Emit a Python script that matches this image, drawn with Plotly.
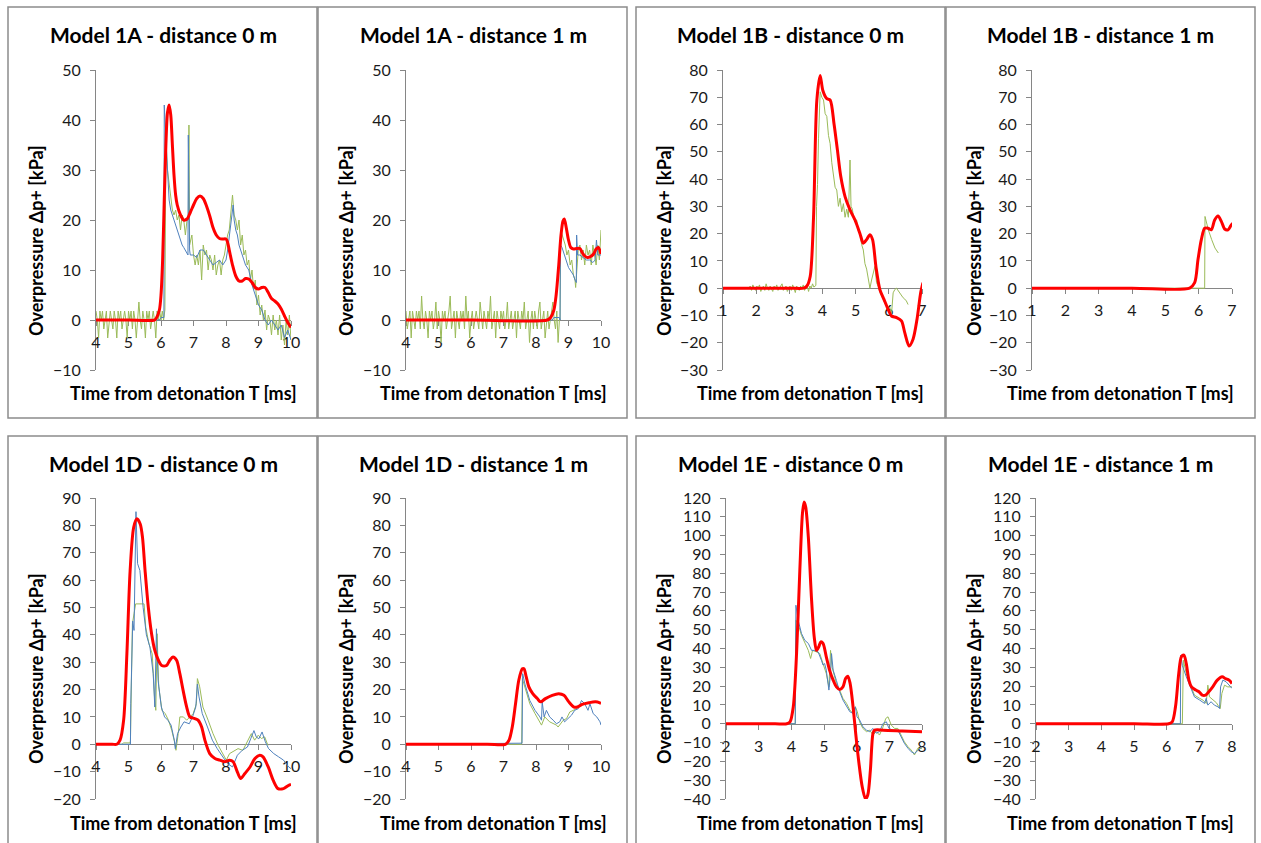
import numpy as np
import plotly.graph_objects as go

W, H = 1261, 843

# ---------------- panel texts / scales ----------------
panel_titles = ["Model 1A - distance 0 m", "Model 1A - distance 1 m",
                "Model 1B - distance 0 m", "Model 1B - distance 1 m",
                "Model 1D - distance 0 m", "Model 1D - distance 1 m",
                "Model 1E - distance 0 m", "Model 1E - distance 1 m"]
x_ranges = [(4, 10), (4, 10), (1, 7), (1, 7), (4, 10), (4, 10), (2, 8), (2, 8)]
y_ranges = [(-10, 50), (-10, 50), (-30, 80), (-30, 80), (-20, 90), (-20, 90), (-40, 120), (-40, 120)]
y_title = "Overpressure Δp+ [kPa]"
x_title = "Time from detonation T [ms]"

# ---------------- data: Model 1A, 0 m ----------------
A0_green_noise_t0, A0_green_noise_dt = 4.0, 0.04
A0_green_noise = [1.8, 0, -3.6, 1.8, 0, 1.8, -1.8, 0, 1.8, -3.6, 0, 1.8, 0, -1.8, 1.8, 0, -3.6, 1.8, 0, 1.8,
                  -1.8, 0, 1.8, 0, -3.6, 1.8, 0, 1.8, -1.8, 1.8, 0, -3.6, 0, 3.6, 0, -1.8, 1.8, 0, -3.6, 1.8,
                  0, 1.8, -1.8, 0, 1.8, 0, -3.6, 1.8, 0, 1.8, 0, 1.8, 0]
A0_green_t = [6.12, 6.15, 6.2, 6.25, 6.3, 6.35, 6.4, 6.45, 6.5, 6.55, 6.6, 6.65, 6.7, 6.75, 6.8, 6.84, 6.86, 6.88,
              6.95, 7.0, 7.05, 7.1, 7.15, 7.2, 7.25, 7.3, 7.35, 7.4, 7.45, 7.5, 7.55, 7.6, 7.65, 7.7, 7.75, 7.8,
              7.85, 7.9, 7.95, 8.0, 8.05, 8.1, 8.15, 8.2, 8.25, 8.3, 8.35, 8.4, 8.45, 8.5, 8.55, 8.6, 8.65, 8.7,
              8.75, 8.8, 8.85, 8.9, 8.95, 9.0, 9.05, 9.1, 9.15, 9.2, 9.25, 9.3, 9.35, 9.4, 9.45, 9.5, 9.55, 9.6,
              9.65, 9.7, 9.75, 9.8, 9.85, 9.9, 9.95, 10.0]
A0_green_p = [2, 36, 30, 27, 25, 22, 21, 22, 20, 21, 18, 21, 20, 17, 20, 20, 39, 15,
              17, 13, 11, 13, 11, 14, 8, 15, 13, 14, 10, 13, 12, 10, 13, 9, 11, 12,
              9, 12, 13, 15, 17, 18, 22, 25, 21, 20, 18, 20, 15, 17, 13, 14, 11, 12,
              8, 10, 6, 8, 3, 5, 1, 3, 0, 2, -2, 1, 0, -3, 1, -2, 0, -3,
              1, -4, -1, -5, 0, -3, 1, -4]
A0_blue_t = [4.0, 5.95, 6.0, 6.09, 6.1, 6.15, 6.2, 6.25, 6.3, 6.35, 6.4, 6.45, 6.5, 6.55, 6.6, 6.65, 6.7, 6.75,
             6.8, 6.83, 6.84, 6.86, 6.88, 6.9, 7.0, 7.1, 7.2, 7.3, 7.4, 7.5, 7.6, 7.7, 7.8, 7.9, 8.0, 8.05,
             8.1, 8.15, 8.2, 8.22, 8.25, 8.3, 8.35, 8.4, 8.5, 8.6, 8.7, 8.8, 8.9, 9.0, 9.1, 9.2, 9.3, 9.4,
             9.5, 9.6, 9.7, 9.8, 9.9, 10.0]
A0_blue_p = [0, 0, 0.5, 0.5, 43, 35, 30, 24, 22, 21, 20, 19, 18, 17, 16, 15, 14.5, 14,
             13.5, 13, 37, 20, 14, 13, 13, 12.5, 14, 14, 13, 12, 11, 11.5, 12, 11, 12, 14,
             17, 20, 22, 23, 20, 18, 17, 15, 13, 11, 10, 7, 5, 3, 2, 0, -1, 0,
             -1, -2, -1, -3.5, -2, -4]
A0_red_t = [4.0, 5.0, 5.8, 5.85, 5.95, 6.0, 6.05, 6.1, 6.15, 6.2, 6.25, 6.3, 6.35, 6.4, 6.45, 6.5, 6.6, 6.7,
            6.8, 6.9, 7.0, 7.1, 7.2, 7.3, 7.4, 7.5, 7.6, 7.7, 7.8, 7.9, 8.0, 8.05, 8.1, 8.2, 8.3, 8.4,
            8.5, 8.6, 8.7, 8.8, 8.9, 9.0, 9.1, 9.2, 9.3, 9.4, 9.5, 9.6, 9.7, 9.8, 9.9, 10.0]
A0_red_p = [0, 0, 0, 0.3, 2, 5, 12, 24, 35, 41.5, 43, 41, 35, 29, 25, 23, 21, 20,
            20.2, 21.5, 23, 24.3, 24.8, 24.3, 22.8, 20.8, 18.5, 17, 16.3, 16.2, 16.2, 15.5, 14, 11, 8.8, 7.8,
            7.8, 8.3, 8.2, 7.5, 6.5, 6.2, 6.5, 6.5, 5.5, 4.3, 3.8, 3.2, 2.2, 0.8, -0.5, -1.5]

# ---------------- data: Model 1A, 1 m ----------------
A1_green_noise_t0, A1_green_noise_dt = 4.0, 0.04
A1_green_noise = [1.8, -1.8, 0, 1.8, -3.6, 1.8, 0, -1.8, 1.8, 0, 1.8, -1.8, 4.8, 0, -1.8, 1.8, 0, -3.6, 1.8, 0,
                  1.8, -1.8, 0, 3.6, -1.8, 1.8, 0, -4.5, 1.8, 0, 1.8, -1.8, 0, 1.8, 4.8, -1.8, 0, 1.8, -3.6, 1.8,
                  0, -1.8, 1.8, 0, 1.8, -1.8, 4.8, 0, 1.8, -3.6, 0, 1.8, -1.8, 0, 1.8, 0, -1.8, 3.6, 0, -1.8,
                  1.8, 0, -1.8, 1.8, 0, 4.8, -1.8, 0, 1.8, -3.6, 1.8, 0, -1.8, 1.8, 0, 1.8, -1.8, 0, 3.6, -1.8,
                  0, 1.8, -1.8, 0, 1.8, -3.6, 1.8, 0, -1.8, 1.8, 0, 3.6, -1.8, 0, 1.8, -4.5, 0, 1.8, -1.8, 1.8,
                  0, -1.8, 1.8, 3.6, -1.8, 0, 1.8, -3.6, 0, 1.8, -1.8, 0, 1.8, 3.6, 0, -1.8, 1.8, -4.5, 0]
A1_green_t = [8.74, 8.76, 8.8, 8.85, 8.9, 8.95, 9.0, 9.05, 9.1, 9.15, 9.2, 9.22, 9.25, 9.3, 9.35, 9.4, 9.45,
              9.5, 9.55, 9.6, 9.65, 9.7, 9.75, 9.8, 9.85, 9.9, 9.95, 10.0]
A1_green_p = [0, 18, 17, 16, 15, 13, 14, 11, 12, 9, 8, 6.5, 9, 14, 15, 12, 14,
              11, 15, 13, 14, 11, 15, 13, 11, 15, 12, 18]
A1_blue_t = [4.0, 8.5, 8.55, 8.72, 8.74, 8.75, 8.8, 8.85, 8.9, 8.95, 9.0, 9.05, 9.1, 9.15, 9.2, 9.24, 9.25,
             9.28, 9.35, 9.45, 9.55, 9.65, 9.75, 9.82, 9.86, 9.9, 10.0]
A1_blue_p = [0, 0, 0.5, 0.5, 0, 15, 14.5, 13.5, 12.5, 11.5, 10.5, 10, 9.5, 9, 8, 7.5, 17,
             13, 13, 12.5, 12, 12, 11.5, 12, 16, 13, 13]
A1_red_t = [4.0, 6.0, 8.35, 8.45, 8.55, 8.62, 8.7, 8.77, 8.83, 8.87, 8.93, 9.0, 9.07, 9.15, 9.25, 9.35, 9.42,
            9.5, 9.58, 9.68, 9.77, 9.85, 9.92, 10.0]
A1_red_p = [0, 0, 0, 0.5, 2, 5, 11, 17, 19.8, 20.2, 18.5, 16, 14.5, 14.2, 14.3, 14.3, 13.5,
            12.8, 12.5, 12.7, 13.2, 14.2, 14.5, 13.2]

# ---------------- data: Model 1B, 0 m ----------------
B0_green_noise_t0, B0_green_noise_dt = 1.78, 0.04
B0_green_noise = [0, 0.8, -0.8, 1.2, 0, -0.8, 0.8, 0, 1.2, -1.2, 0, 0.8, -0.8, 1.6, 0, -0.8, 0.8, 0, -1.2, 0.8,
                  0, 1.2, -0.8, 0, 0.8, 1.6, -0.8, 0, 0.8, -1.2, 0, 0.8, -0.8, 1.2, 0, -1.6, 0.8, 0, -0.8, 0.8,
                  0, 1.2, -0.8, 0, 0.8, -1.2, 0.8, 0, 1.6, 0.4]
B0_green_t = [3.8, 3.82, 3.85, 3.88, 3.93, 3.98, 4.03, 4.08, 4.13, 4.18, 4.23, 4.28, 4.33, 4.38, 4.43, 4.48,
              4.53, 4.58, 4.63, 4.68, 4.73, 4.78, 4.83, 4.86, 4.9, 4.95, 5.03, 5.08, 5.13, 5.18, 5.23, 5.28,
              5.33, 5.38, 5.43, 5.48, 5.53, 5.58, 5.63, 5.68, 5.75, 5.83, 5.9, 5.98, 6.03, 6.08, 6.13, 6.18,
              6.23, 6.28, 6.33, 6.38, 6.43, 6.48, 6.53, 6.58]
B0_green_p = [1, 30, 38, 55, 72, 70, 69, 64, 63, 56, 53, 46, 42, 37, 36, 30, 33, 28, 31, 26, 29, 26, 47, 30,
              29, 25, 25, 21, 20, 16, 14, 9, 7, 4, 0, 3, 6, 8, 2, 0.7, -2, -4, -6, -8, -7, -9.6, -1.7, -0.5,
              0, -1, -1.7, -2.5, -3.5, -4, -4.7, -6]
B0_red_t = [1.0, 3.0, 3.43, 3.53, 3.63, 3.73, 3.83, 3.93, 4.01, 4.13, 4.23, 4.35, 4.45, 4.55, 4.68, 4.83,
            4.98, 5.13, 5.23, 5.33, 5.43, 5.51, 5.61, 5.73, 5.85, 5.98, 6.08, 6.23, 6.38, 6.48, 6.61,
            6.73, 6.85, 6.96, 7.03]
B0_red_p = [0, 0, 0, 0.8, 4.4, 26, 69, 78, 72.5, 69.5, 69, 60, 50.6, 41, 33.6, 28.7,
            25, 20, 16.5, 17.8, 19.6, 17.8, 8, -0.5, -4, -7.8, -10.2, -10.8, -12, -16.3, -21.2,
            -18.7, -11.4, -1.7, 2]

# ---------------- data: Model 1B, 1 m ----------------
B1_green_t = [1.0, 6.18, 6.19, 6.29, 6.39, 6.49, 6.59]
B1_green_p = [0, 0, 26.3, 21.4, 17.8, 14.7, 12.9]
B1_red_t = [1.0, 4.0, 5.73, 5.88, 5.98, 6.08, 6.18, 6.28, 6.38, 6.48, 6.58, 6.68, 6.78, 6.88, 6.98, 7.06]
B1_red_p = [0, 0, 0, 2, 10.5, 17.8, 22, 22, 21.4, 25, 26.5, 24.5, 21.7, 21.4, 23.2, 24]

# ---------------- data: Model 1D, 0 m ----------------
D0_green_t = [4.0, 4.8, 4.85, 5.05, 5.06, 5.12, 5.17, 5.22, 5.48, 5.53, 5.63, 5.73, 5.8, 5.84, 5.88, 5.93,
              6.03, 6.13, 6.23, 6.33, 6.43, 6.46, 6.53, 6.58, 6.69, 6.79, 6.89, 6.99, 7.09, 7.12, 7.19,
              7.29, 7.45, 7.6, 7.76, 7.91, 8.01, 8.11, 8.21, 8.37, 8.52, 8.68, 8.78, 8.88, 8.99, 9.09,
              9.19, 9.29]
D0_green_p = [0, 0, 0.5, 0.5, 1.5, 44, 47.7, 51.3, 51.3, 42.8, 36.7, 33, 17.3, 12.4, 40.4, 21,
              12.4, 11.2, 8.8, 5.1, 0.2, -2.2, 3.9, 10, 10, 8.8, 10, 11.2, 14.8, 24, 21,
              13.6, 8.8, 3.9, -0.4, -3.4, -5.8, -3.4, -2.8, -1.6, -2.2, 1.5, 3.9, 1.5, 3.3, 2.1,
              2.7, -0.4]
D0_blue_t = [4.0, 5.06, 5.07, 5.13, 5.17, 5.23, 5.28, 5.35, 5.45, 5.55, 5.66, 5.76, 5.81, 5.86, 5.91, 6.01,
             6.11, 6.21, 6.31, 6.41, 6.44, 6.51, 6.61, 6.71, 6.87, 6.97, 7.07, 7.12, 7.17, 7.27, 7.43,
             7.58, 7.73, 7.89, 8.04, 8.2, 8.35, 8.5, 8.66, 8.76, 8.86, 8.93, 9.01, 9.11, 9.21, 9.31,
             9.47, 9.62, 9.77, 9.93, 10.0]
D0_blue_p = [0, 0, 14.8, 45, 41.6, 85, 66, 63.5, 50, 40, 35.5, 25.8, 13.6, 42.2, 23.4, 13.6,
             10, 8.8, 7, 1.5, -1.6, 3.9, 6.3, 8.2, 7.5, 10, 13.6, 22, 17.3, 11.2, 6.3,
             1.5, -1.6, -4.6, -7, -8.3, -4, -2.2, -1, 2, 5, 2.7, 2, 4.5, 0.9, -1.6,
             -3.4, -4.6, -5.8, -8.3, -8.9]
D0_red_t = [4.0, 4.5, 4.64, 4.74, 4.85, 4.95, 5.05, 5.16, 5.26, 5.36, 5.43, 5.51, 5.61, 5.71, 5.81, 5.92,
            6.02, 6.17, 6.27, 6.37, 6.48, 6.58, 6.68, 6.79, 6.89, 7.04, 7.14, 7.25, 7.35, 7.5, 7.66,
            7.81, 7.96, 8.11, 8.22, 8.33, 8.45, 8.58, 8.74, 8.89, 9.04, 9.14, 9.3, 9.45, 9.6, 9.77,
            9.93, 10.0]
D0_red_p = [0, 0, 0, 1.5, 8.8, 33, 63.5, 79.3, 82.4, 80.5, 75.7, 63.5, 50, 40.4, 34.3, 30.7,
            28.8, 28.8, 30.7, 31.9, 30.7, 25.8, 19.7, 13.6, 10, 9.4, 8.8, 6.3, 1.5, -3.4, -5.2,
            -5.8, -6.4, -5.8, -6.4, -9.5, -12.5, -10.7, -8.3, -5.2, -4, -4.6, -8.3, -13.1, -16.2, -16.2,
            -15, -14.7]

# ---------------- data: Model 1D, 1 m ----------------
D1_green_t = [4.0, 7.56, 7.58, 7.66, 7.81, 7.97, 8.07, 8.17, 8.27, 8.42, 8.63, 8.68, 8.84, 8.94, 9.04,
              9.14, 9.25, 9.35]
D1_green_p = [0, 0, 24, 21, 14.8, 11.2, 8.8, 7, 10, 8.2, 7, 6.3, 8.8, 9.4, 11.8,
              12.4, 13, 14.2]
D1_blue_t = [4.0, 7.3, 7.57, 7.59, 7.66, 7.81, 7.97, 8.12, 8.17, 8.19, 8.25, 8.32, 8.42, 8.53, 8.63, 8.73,
             8.8, 8.88, 8.99, 9.09, 9.19, 9.3, 9.4, 9.5, 9.6, 9.66, 9.76, 9.87, 9.97, 10.0]
D1_blue_p = [0, 0.4, 0.4, 25.8, 22, 16, 12.4, 10, 8.8, 15.5, 10, 12.4, 10, 8.8, 7.5, 8.2,
             10, 8.2, 9.4, 10.6, 12.4, 13, 16, 14.8, 12.4, 14.8, 11.2, 10, 8.2, 7]
D1_red_t = [4.0, 6.5, 7.06, 7.17, 7.27, 7.37, 7.47, 7.58, 7.63, 7.7, 7.78, 7.9, 8.04, 8.14, 8.29, 8.5,
            8.7, 8.86, 9.01, 9.17, 9.27, 9.42, 9.63, 9.83, 10.0]
D1_red_p = [0, 0, 0, 1.5, 6.3, 14.8, 23.4, 27.6, 27.6, 24.6, 21, 18.5, 16.7, 15.5, 16.7, 17.9,
            18.5, 17.9, 15.5, 13.6, 13.6, 14.6, 15.2, 15.5, 15]

# ---------------- data: Model 1E, 0 m ----------------
E0_green_t = [2.0, 4.12, 4.14, 4.21, 4.31, 4.41, 4.52, 4.59, 4.65, 4.77, 4.87, 4.97, 5.07, 5.15, 5.2, 5.25,
              5.38, 5.48, 5.58, 5.69, 5.79, 5.89, 5.96, 6.02, 6.09, 6.19, 6.3, 6.4, 6.5, 6.6, 6.7, 6.81,
              6.89, 6.96, 7.06, 7.16, 7.26, 7.36, 7.46, 7.57, 7.67, 7.77, 7.87, 8.0]
E0_green_p = [0, 0, 55, 53, 47, 43.5, 39, 34.7, 39, 38.2, 37.3, 32, 26.7, 19.6, 39, 30,
              21.4, 17.9, 13.5, 10.8, 7.3, 5.5, 9, 6.4, 1, -2.5, -4.2, -3.4, -6, -4.2, -6, -1.6,
              2.8, 3.7, -0.7, -2.5, -2.5, -6, -9.6, -12.2, -14, -16.6, -13.1, -13.1]
E0_blue_t = [2.0, 4.12, 4.14, 4.21, 4.31, 4.41, 4.52, 4.62, 4.72, 4.82, 4.92, 4.97, 5.02, 5.07, 5.15, 5.2,
             5.23, 5.28, 5.38, 5.48, 5.58, 5.69, 5.79, 5.89, 5.96, 6.01, 6.09, 6.19, 6.3, 6.4, 6.5, 6.6,
             6.7, 6.81, 6.91, 6.99, 7.11, 7.26, 7.36, 7.46, 7.57, 7.67, 7.77, 7.87, 8.0]
E0_blue_p = [0, 0, 63, 55, 48, 44.4, 42.7, 39, 39, 38.2, 33.8, 31.2, 32, 28.5, 17.9, 26.7,
             37.3, 28.5, 23, 17, 12.6, 9, 6.4, 5.5, 9, 3.7, 2, -1.6, -3.4, -4.2, -2.5, -5,
             -4.2, 0.2, 1, -2.5, -3.4, -3.4, -6.9, -10.4, -13, -14.9, -15.8, -14, -12.2]
E0_red_t = [2.0, 3.5, 3.86, 3.96, 4.06, 4.16, 4.26, 4.34, 4.39, 4.44, 4.52, 4.62, 4.7, 4.77, 4.84, 4.9,
            4.97, 5.07, 5.17, 5.28, 5.38, 5.48, 5.58, 5.66, 5.73, 5.8, 5.89, 5.97, 6.07, 6.17, 6.27,
            6.34, 6.42, 6.5, 6.55, 6.81, 7.4, 8.0]
E0_red_p = [0, 0, 0, 1, 9, 37.3, 81.6, 111.7, 117.9, 115.2, 99.3, 65.7, 46.2, 39, 40.9, 43.5,
            42.7, 35.6, 28.5, 23.2, 19.6, 18.2, 19.6, 24, 25.3, 21.4, 9, -5.1, -21, -33.5, -40,
            -37.9, -24.6, -5.1, -3.4, -3.4, -3.8, -4.2]

# ---------------- data: Model 1E, 1 m ----------------
E1_green_t = [2.0, 6.48, 6.51, 6.6, 6.75, 6.85, 7.01, 7.11, 7.21, 7.26, 7.31, 7.41, 7.52, 7.6, 7.64, 7.69,
              7.77, 7.87, 8.0]
E1_green_p = [0, 0, 33.8, 26.7, 19.6, 15.2, 13.5, 12.6, 10.8, 20.5, 14.3, 12.6, 11.2, 9, 8.1, 16.1,
              20.5, 19.6, 19.6]
E1_blue_t = [2.0, 6.42, 6.43, 6.48, 6.6, 6.75, 6.85, 7.01, 7.16, 7.21, 7.26, 7.36, 7.46, 7.57, 7.62, 7.65,
             7.72, 7.82, 7.92, 8.0]
E1_blue_p = [0, 0, 36.5, 31, 25, 17.9, 14.3, 12.6, 10.8, 13.5, 9.9, 11.7, 9.9, 9, 8.1, 19.6,
             23.2, 22.3, 20.5, 18.8]
E1_red_t = [2.0, 5.0, 6.06, 6.17, 6.27, 6.37, 6.45, 6.53, 6.6, 6.68, 6.76, 6.89, 6.99, 7.09, 7.19, 7.29,
            7.41, 7.55, 7.7, 7.8, 7.91, 8.0]
E1_red_p = [0, 0, 0, 1, 9, 26.7, 35.6, 36.5, 32, 23.2, 19.6, 17.9, 17, 15.2, 15.2, 17,
            19.6, 23.2, 25, 24, 23.2, 21.4]


def with_noise(t0, dt, noise, t, p):
    nt = [t0 + i * dt for i in range(len(noise))]
    return nt + list(t), list(noise) + list(p)


A0_g = with_noise(A0_green_noise_t0, A0_green_noise_dt, A0_green_noise, A0_green_t, A0_green_p)
A1_g = with_noise(A1_green_noise_t0, A1_green_noise_dt, A1_green_noise, A1_green_t, A1_green_p)
B0_g = with_noise(B0_green_noise_t0, B0_green_noise_dt, B0_green_noise, B0_green_t, B0_green_p)

panels = [
    dict(green=A0_g, blue=(A0_blue_t, A0_blue_p), red=(A0_red_t, A0_red_p)),
    dict(green=A1_g, blue=(A1_blue_t, A1_blue_p), red=(A1_red_t, A1_red_p)),
    dict(green=B0_g, blue=None, red=(B0_red_t, B0_red_p)),
    dict(green=(B1_green_t, B1_green_p), blue=None, red=(B1_red_t, B1_red_p)),
    dict(green=(D0_green_t, D0_green_p), blue=(D0_blue_t, D0_blue_p), red=(D0_red_t, D0_red_p)),
    dict(green=(D1_green_t, D1_green_p), blue=(D1_blue_t, D1_blue_p), red=(D1_red_t, D1_red_p)),
    dict(green=(E0_green_t, E0_green_p), blue=(E0_blue_t, E0_blue_p), red=(E0_red_t, E0_red_p)),
    dict(green=(E1_green_t, E1_green_p), blue=(E1_blue_t, E1_blue_p), red=(E1_red_t, E1_red_p)),
]

# ---------------- geometry (pixels) ----------------
plot_x = [(96, 291), (406, 601), (723, 922), (1032, 1232), (96, 291), (406, 601), (726, 922), (1036, 1232)]
plot_y = [(70, 370)] * 4 + [(498, 799)] * 4
boxes = [(8, 317, 7, 418), (318, 627, 7, 418), (636, 945, 7, 418), (946, 1255, 7, 418),
         (8, 317, 436, 860), (318, 627, 436, 860), (636, 945, 436, 860), (946, 1255, 436, 860)]
title_pos = [(163, 35), (473, 35), (790, 35), (1100, 35), (163, 463), (473, 463), (790, 463), (1100, 463)]
ytitle_pos = [(36, 241), (346, 241), (664, 241), (974, 241), (36, 669), (346, 669), (664, 669), (974, 669)]
xtitle_pos = [(183, 393), (493, 393), (810, 393), (1120, 393), (183, 823), (493, 823), (810, 823), (1120, 823)]

FONT = "Lato"
GREEN, BLUE, RED = "#9BBB59", "#4F81BD", "#FF0000"
AXC = "#868686"

fig = go.Figure()
layout = {}
annotations = []
shapes = []

for i, pdat in enumerate(panels):
    k = "" if i == 0 else str(i + 1)
    xa, ya = "x" + k, "y" + k
    gt, gp = pdat["green"]
    fig.add_trace(go.Scatter(x=gt, y=gp, mode="lines", xaxis=xa, yaxis=ya, showlegend=False,
                             line=dict(color=GREEN, width=1)))
    if pdat["blue"] is not None:
        bt, bp = pdat["blue"]
        fig.add_trace(go.Scatter(x=bt, y=bp, mode="lines", xaxis=xa, yaxis=ya, showlegend=False,
                                 line=dict(color=BLUE, width=1)))
    rt, rp = pdat["red"]
    fig.add_trace(go.Scatter(x=rt, y=rp, mode="lines", xaxis=xa, yaxis=ya, showlegend=False,
                             line=dict(color=RED, width=3, shape="spline", smoothing=0.8)))

    x0p, x1p = plot_x[i]
    y0p, y1p = plot_y[i]
    xd = [x0p / W, x1p / W]
    yd = [1 - y1p / H, 1 - y0p / H]
    ymin, ymax = y_ranges[i]
    xmin, xmax = x_ranges[i]
    pos = yd[0] + (0 - ymin) / (ymax - ymin) * (yd[1] - yd[0])
    layout["xaxis" + k] = dict(domain=xd, range=[xmin, xmax], anchor="free", position=pos,
                               tick0=xmin, dtick=1, ticks="outside", ticklen=5, tickcolor=AXC,
                               showline=True, linecolor=AXC, linewidth=1, showgrid=False, zeroline=False,
                               layer="below traces", ticklabelstandoff=3, automargin=False,
                               tickfont=dict(family=FONT, size=16, color="#1a1a1a"))
    layout["yaxis" + k] = dict(domain=yd, range=[ymin, ymax], anchor=xa, dtick=10, tick0=0,
                               ticks="outside", ticklen=5, tickcolor=AXC,
                               showline=True, linecolor=AXC, linewidth=1, showgrid=False, zeroline=False,
                               layer="below traces", ticklabelstandoff=6, automargin=False,
                               tickfont=dict(family=FONT, size=16, color="#1a1a1a"))
    tx, ty = title_pos[i]
    annotations.append(dict(text="<b>%s</b>" % panel_titles[i], x=tx / W, y=1 - ty / H, xref="paper", yref="paper",
                            showarrow=False, xanchor="center", yanchor="middle",
                            font=dict(family=FONT, size=21, color="black")))
    ax_, ay_ = ytitle_pos[i]
    annotations.append(dict(text="<b>%s</b>" % y_title, x=ax_ / W, y=1 - ay_ / H, xref="paper", yref="paper",
                            showarrow=False, xanchor="center", yanchor="middle", textangle=-90,
                            font=dict(family=FONT, size=18, color="black")))
    bx_, by_ = xtitle_pos[i]
    annotations.append(dict(text="<b>%s</b>" % x_title, x=bx_ / W, y=1 - by_ / H, xref="paper", yref="paper",
                            showarrow=False, xanchor="center", yanchor="middle",
                            font=dict(family=FONT, size=18, color="black")))
    bx0, bx1, by0, by1 = boxes[i]
    shapes.append(dict(type="rect", xref="paper", yref="paper", x0=bx0 / W, x1=bx1 / W,
                       y0=1 - by1 / H, y1=1 - by0 / H, line=dict(color="#8c8c8c", width=1.5),
                       fillcolor="rgba(0,0,0,0)", layer="below"))

fig.update_layout(width=W, height=H, margin=dict(l=0, r=0, t=0, b=0, autoexpand=False),
                  paper_bgcolor="white", plot_bgcolor="white",
                  annotations=annotations, shapes=shapes, **layout)

fig.write_html("out.html", post_script="document.body.style.margin='0';",
               config={"displayModeBar": False})
